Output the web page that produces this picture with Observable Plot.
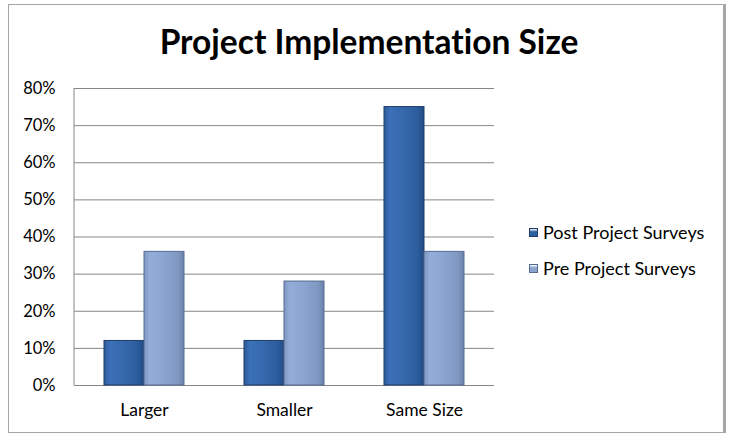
<!DOCTYPE html>
<html>
<head>
<meta charset="utf-8">
<script src="https://cdn.jsdelivr.net/npm/d3@7"></script>
<script src="https://cdn.jsdelivr.net/npm/@observablehq/plot@0.6"></script>
<style>
  html, body { margin: 0; padding: 0; background: #fff; }
  #wrap { position: relative; width: 738px; height: 436px; overflow: hidden; font-family: Lato, "Open Sans", sans-serif; font-variant-ligatures: none; }
  #frame { position: absolute; left: 8px; top: 4px; width: 718px; height: 429px; border: 1px solid #a6a6a6; border-right: 3px solid #a6a6a6; box-sizing: border-box; }
  #title { position: absolute; left: 0; width: 738px; top: 21px; text-align: center; font-size: 33.5px; font-weight: 700; color: #000; }
  #chart { position: absolute; left: 0; top: 0; }
  #legend { position: absolute; left: 529px; top: 214px; font-size: 18px; color: #000; }
  .li { display: flex; align-items: center; height: 36px; }
  .sw { width: 9px; height: 9px; margin-right: 5px; box-sizing: border-box; }
  svg text { font-variant-ligatures: none; }
</style>
</head>
<body>
<div id="wrap">
  <div id="frame"></div>
  <div id="title">Project Implementation Size</div>
  <div id="chart"></div>
  <div id="legend"></div>
</div>
<script>
const categories = ["Larger", "Smaller", "Same Size"];
const seriesNames = ["Post Project Surveys", "Pre Project Surveys"];
const postValues = [0.12, 0.12, 0.75];
const preValues = [0.36, 0.28, 0.36];
const yTicks = [0, 0.1, 0.2, 0.3, 0.4, 0.5, 0.6, 0.7, 0.8];

const postData = categories.map((c, i) => ({category: c, value: postValues[i]}));
const preData = categories.map((c, i) => ({category: c, value: preValues[i]}));

const W = 738, H = 436;
const plot = Plot.plot({
  width: W,
  height: H,
  marginTop: 88,
  marginBottom: 51,
  marginLeft: 74,
  marginRight: 244,
  style: {fontFamily: "Lato, 'Open Sans', sans-serif", fontSize: "16px", color: "#000", background: "transparent"},
  x: {domain: categories, paddingInner: 0.4286, paddingOuter: 0.2143, label: null},
  y: {domain: [0, 0.8], label: null},
  marks: [
    Plot.ruleY(yTicks, {stroke: "#868686", strokeOpacity: 1, strokeWidth: 1}),
    Plot.axisY(yTicks, {tickFormat: d3.format(".0%"), tickSize: 0, tickPadding: 19, fontSize: 16.5, label: null}),
    Plot.axisX({tickSize: 0, tickPadding: 18, fontSize: 17.5, label: null}),
    Plot.barY(postData, {x: "category", y: "value", insetRight: 40, fill: "url(#gPost)", stroke: "#1e3d6b", strokeWidth: 1}),
    Plot.barY(preData, {x: "category", y: "value", insetLeft: 40, fill: "url(#gPre)", stroke: "#566b90", strokeWidth: 1})
  ]
});

// gradient defs
const svg = d3.select(plot);
const defs = svg.insert("defs", ":first-child");
function grad(id, stops) {
  const g = defs.append("linearGradient").attr("id", id).attr("x1", 0).attr("x2", 1).attr("y1", 0).attr("y2", 0);
  stops.forEach(([o, c]) => g.append("stop").attr("offset", o).attr("stop-color", c));
}
grad("gPost", [[0, "#2b5a9a"], [0.15, "#3b71b8"], [0.5, "#3568ac"], [0.85, "#2c5c9c"], [1, "#214a82"]]);
grad("gPre", [[0, "#7f98c4"], [0.15, "#93add8"], [0.5, "#8ca5d0"], [0.85, "#7f98c2"], [1, "#6b82aa"]]);

// y axis line on left
const yScale = plot.scale("y");
svg.append("line").attr("x1", 74).attr("x2", 74).attr("y1", yScale.apply(0.8)).attr("y2", yScale.apply(0))
  .attr("stroke", "#868686");

document.getElementById("chart").appendChild(plot);

// legend
const legend = document.getElementById("legend");
const legendColors = [["#2e5f9f", "#1e3d6b"], ["#8ca5d0", "#566b90"]];
seriesNames.forEach((name, i) => {
  const row = document.createElement("div");
  row.className = "li";
  const sw = document.createElement("span");
  sw.className = "sw";
  sw.style.background = `linear-gradient(to bottom, #fff 0%, ${legendColors[i][0]} 40%, ${legendColors[i][0]} 100%)`;
  sw.style.border = `1px solid ${legendColors[i][1]}`;
  const t = document.createElement("span");
  t.textContent = name;
  row.appendChild(sw);
  row.appendChild(t);
  legend.appendChild(row);
});
</script>
</body>
</html>
